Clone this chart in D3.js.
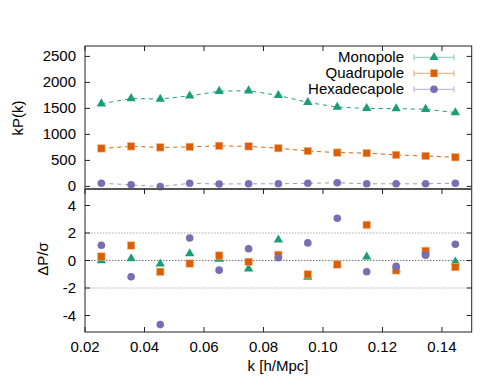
<!DOCTYPE html>
<html><head><meta charset="utf-8">
<script src="https://cdn.jsdelivr.net/npm/d3@7"></script>
<style>
body{margin:0;background:#fff;}
text{font-family:"Liberation Sans",Arial,Helvetica,sans-serif;fill:#000;}
</style></head>
<body><svg id="c" width="495" height="383"></svg>
<script>
const kValues = [0.0255,0.0355,0.0453,0.0552,0.0651,0.0750,0.0850,0.0949,0.1048,0.1147,0.1246,0.1345,0.1445];
const monopole = [1590,1690,1680,1740,1830,1840,1750,1615,1525,1500,1495,1485,1420];
const quadrupole = [730,770,750,760,780,770,735,680,650,640,605,585,560];
const hexadecapole = [60,30,-5,60,45,50,50,60,70,50,50,50,60];
const resMonopole = [0.0,0.14,-0.24,0.5,0.1,-0.6,1.5,-1.2,-0.3,0.27,-0.65,0.65,-0.1];
const resQuadrupole = [0.29,1.09,-0.82,-0.22,0.36,-0.1,0.41,-1.01,-0.29,2.59,-0.72,0.70,-0.48];
const resHexadecapole = [1.11,-1.18,-4.66,1.64,-0.70,0.85,0.2,1.28,3.07,-0.82,-0.43,0.39,1.18];
const seriesNames = ["Monopole","Quadrupole","Hexadecapole"];
const colors = ["#1b9e77","#d95f02","#7570b3"];
const xTicks = [0.02,0.04,0.06,0.08,0.10,0.12,0.14];
const topTicks = [0,500,1000,1500,2000,2500];
const botTicks = [-4,-2,0,2,4];

const svg = d3.select("#c");
const L=85, R=471.7, T=46, M=189, B=332;
const x = d3.scaleLinear().domain([0.02,0.15]).range([L,R]);
const yT = d3.scaleLinear().domain([-50,2700]).range([M,T]);
const yB = d3.scaleLinear().domain([-5.2,5.2]).range([B,M]);
const tl = 5;

function marker(g, type, cx, cy, color){
  if(type===0){
    g.append("path").attr("d", d3.symbol(d3.symbolTriangle, 38)()).attr("transform",`translate(${cx},${cy})`).attr("fill",color);
  } else if(type===1){
    g.append("rect").attr("x",cx-3.7).attr("y",cy-3.7).attr("width",7.4).attr("height",7.4).attr("fill",color).attr("stroke","#f5b78a").attr("stroke-width",0.6);
  } else {
    g.append("circle").attr("cx",cx).attr("cy",cy).attr("r",3.8).attr("fill",color);
  }
}

// guide lines in bottom panel
[[2,"#aaa"],[0,"#777"],[-2,"#aaa"]].forEach(([v,c])=>{
  svg.append("line").attr("x1",L).attr("x2",R).attr("y1",yB(v)).attr("y2",yB(v))
    .attr("stroke",c).attr("stroke-width",1).attr("stroke-dasharray","1.5,1.5");
});

// top panel series
const topData=[monopole,quadrupole,hexadecapole];
topData.forEach((vals,si)=>{
  const line=d3.line().x((d,i)=>x(kValues[i])).y(d=>yT(d));
  svg.append("path").attr("d",line(vals)).attr("fill","none").attr("stroke",colors[si])
    .attr("stroke-width",1).attr("stroke-dasharray","4,4").attr("opacity",si===2?0.75:1);
  const g=svg.append("g");
  vals.forEach((v,i)=>marker(g,si,x(kValues[i]),yT(v),colors[si]));
});

// bottom panel series
const botData=[resMonopole,resQuadrupole,resHexadecapole];
botData.forEach((vals,si)=>{
  const g=svg.append("g");
  vals.forEach((v,i)=>marker(g,si,x(kValues[i]),yB(v),colors[si]));
});

// frames
const fr = svg.append("g").attr("fill","none").attr("stroke","#222").attr("stroke-width",1);
fr.append("rect").attr("x",L).attr("y",T).attr("width",R-L).attr("height",M-T);
fr.append("rect").attr("x",L).attr("y",M).attr("width",R-L).attr("height",B-M);
svg.append("line").attr("x1",L).attr("x2",R).attr("y1",M).attr("y2",M).attr("stroke","#555").attr("stroke-width",2.2);

// ticks
const tk = svg.append("g").attr("stroke","#222").attr("stroke-width",1);
xTicks.forEach(t=>{
  tk.append("line").attr("x1",x(t)).attr("x2",x(t)).attr("y1",T).attr("y2",T+tl);
  tk.append("line").attr("x1",x(t)).attr("x2",x(t)).attr("y1",M).attr("y2",M+tl);
  tk.append("line").attr("x1",x(t)).attr("x2",x(t)).attr("y1",B).attr("y2",B-tl);
});
topTicks.forEach(t=>{
  tk.append("line").attr("x1",L).attr("x2",L+tl).attr("y1",yT(t)).attr("y2",yT(t));
  tk.append("line").attr("x1",R).attr("x2",R-tl).attr("y1",yT(t)).attr("y2",yT(t));
});
botTicks.forEach(t=>{
  tk.append("line").attr("x1",L).attr("x2",L+tl).attr("y1",yB(t)).attr("y2",yB(t));
  tk.append("line").attr("x1",R).attr("x2",R-tl).attr("y1",yB(t)).attr("y2",yB(t));
});

// tick labels
const fs = 15;
topTicks.forEach(t=>{
  svg.append("text").attr("x",76).attr("y",yT(t)+5).attr("text-anchor","end").attr("font-size",fs).text(t);
});
botTicks.forEach(t=>{
  svg.append("text").attr("x",76).attr("y",yB(t)+5).attr("text-anchor","end").attr("font-size",fs).text(t);
});
xTicks.forEach(t=>{
  svg.append("text").attr("x",x(t)).attr("y",352).attr("text-anchor","middle").attr("font-size",fs).text(d3.format(".2f")(t));
});

// axis labels
svg.append("text").attr("transform","translate(23,118) rotate(-90)").attr("text-anchor","middle").attr("font-size",fs).text("kP(k)");
svg.append("text").attr("transform","translate(48,259) rotate(-90)").attr("text-anchor","middle").attr("font-size",fs).text("ΔP/σ");
svg.append("text").attr("x",278).attr("y",371).attr("text-anchor","middle").attr("font-size",fs).text("k [h/Mpc]");

// legend
seriesNames.forEach((n,i)=>{
  const cy = 57.3 + i*16;
  svg.append("text").attr("x",404).attr("y",cy+5).attr("text-anchor","end").attr("font-size",fs).text(n);
  const g=svg.append("g").attr("stroke",colors[i]).attr("stroke-width",1).attr("opacity",0.55);
  g.append("line").attr("x1",414).attr("x2",454).attr("y1",cy).attr("y2",cy);
  g.append("line").attr("x1",414).attr("x2",414).attr("y1",cy-3).attr("y2",cy+3);
  g.append("line").attr("x1",454).attr("x2",454).attr("y1",cy-3).attr("y2",cy+3);
  marker(svg,i,434,cy,colors[i]);
});
</script></body></html>
